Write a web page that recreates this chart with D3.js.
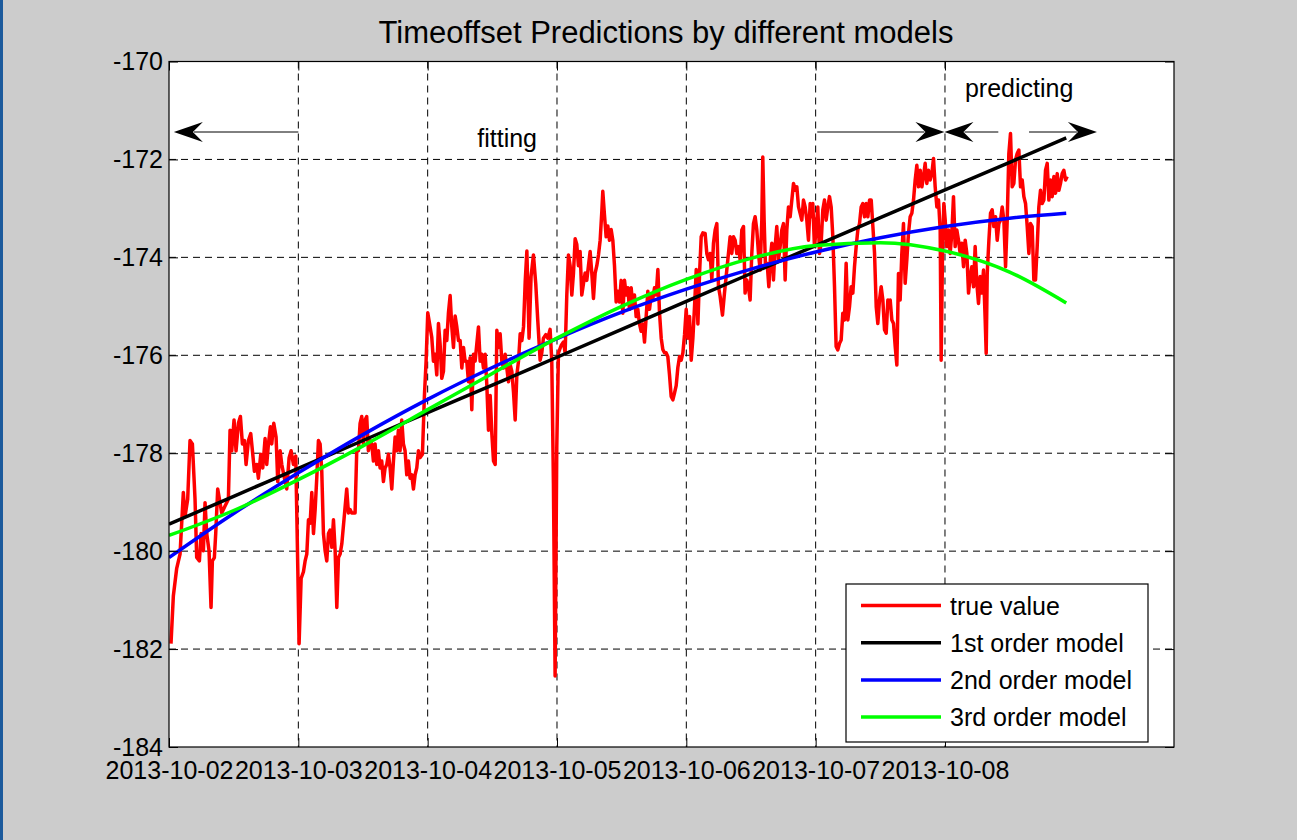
<!DOCTYPE html>
<html>
<head>
<meta charset="utf-8">
<script src="https://cdn.jsdelivr.net/npm/d3@7"></script>
<style>
  html, body { margin: 0; padding: 0; background: #cccccc; }
  svg { display: block; font-family: "Liberation Sans", Arial, sans-serif; }
</style>
</head>
<body>
<div id="chart"></div>
<script>
// ---- data (hours since 2013-10-02 00:00) ----
const dayTicks = ["2013-10-02", "2013-10-03", "2013-10-04", "2013-10-05", "2013-10-06", "2013-10-07", "2013-10-08"];
const yTicks = [-184, -182, -180, -178, -176, -174, -172, -170];

const trueValue = [
  [0.37,-181.89],[0.81,-180.91],[1.43,-180.35],[2.05,-180.06],[2.66,-178.80],[2.97,-179.29],[3.47,-178.94],[3.90,-177.74],[4.34,-177.81],[4.83,-178.94],
  [5.14,-180.13],[5.64,-180.20],[5.95,-179.64],[6.38,-179.99],[6.69,-179.01],[7.00,-179.64],[7.43,-179.99],[7.80,-181.15],[8.05,-180.20],[8.42,-180.13],
  [8.67,-179.64],[9.04,-178.73],[9.47,-179.01],[9.78,-179.22],[10.40,-179.08],[11.02,-178.94],[11.33,-177.53],[11.64,-177.95],[12.07,-177.32],[12.44,-177.95],
  [12.88,-177.39],[13.25,-177.25],[13.62,-177.81],[13.99,-177.74],[14.30,-178.23],[14.74,-177.74],[15.17,-177.60],[15.48,-177.95],[15.85,-178.37],[16.28,-178.23],
  [16.59,-178.51],[17.03,-178.02],[17.40,-178.30],[17.83,-177.70],[18.14,-178.23],[18.45,-177.81],[18.82,-177.46],[19.07,-177.81],[19.44,-177.39],[19.87,-177.67],
  [20.18,-178.58],[20.62,-177.95],[20.93,-178.23],[21.42,-178.51],[21.85,-178.73],[22.29,-178.09],[22.66,-177.95],[23.09,-178.23],[23.52,-178.06],[23.90,-180.35],
  [24.14,-181.89],[24.52,-180.56],[24.95,-180.42],[25.26,-180.20],[25.57,-180.06],[25.88,-179.36],[26.19,-179.43],[26.50,-178.80],[26.81,-179.64],[27.12,-179.15],
  [27.42,-178.51],[27.73,-177.74],[28.04,-177.81],[28.35,-178.37],[28.66,-179.64],[28.97,-179.99],[29.28,-180.20],[29.59,-179.64],[29.90,-179.57],[30.21,-179.92],
  [30.52,-179.36],[30.83,-179.99],[31.14,-181.15],[31.45,-180.13],[31.76,-180.06],[32.07,-179.85],
  [32.98,-178.73],[33.29,-179.22],[33.60,-179.15],[33.91,-179.22],[34.53,-179.22],[34.84,-177.95],[35.15,-177.95],[35.46,-177.39],[35.77,-177.25],[36.07,-177.81],
  [36.38,-177.32],[36.69,-177.25],[37.00,-177.95],[37.31,-177.74],[37.62,-177.81],[37.93,-178.16],[38.24,-177.81],[38.55,-178.23],[38.86,-177.95],[39.17,-178.30],
  [39.48,-178.16],[39.79,-178.58],[40.10,-178.30],[40.41,-178.23],[40.72,-178.02],[41.03,-178.30],[41.34,-178.73],[41.65,-178.16],[41.96,-177.67],[42.26,-177.95],
  [42.57,-177.53],[42.88,-177.95],[43.19,-177.32],[43.50,-177.81],[43.81,-177.95],[44.12,-178.44],[44.43,-178.16],[44.74,-178.51],[45.05,-178.44],[45.36,-178.73],
  [45.67,-178.44],[45.98,-178.30],[46.29,-177.95],[46.60,-178.09],[47.03,-178.02],[47.40,-176.82],[47.71,-176.12],[48.02,-175.13],[48.45,-175.42],[48.76,-175.63],
  [49.07,-176.12],[49.38,-175.98],[49.69,-176.40],[50.00,-175.35],[50.31,-175.77],[50.62,-176.47],[50.93,-176.33],[51.24,-175.49],[51.55,-175.70],[51.86,-175.13],
  [52.17,-174.78],[52.48,-175.42],[52.79,-175.84],[53.10,-175.20],[53.41,-175.42],[53.72,-175.70],[54.03,-175.70],[54.34,-176.26],[54.65,-175.84],[54.95,-176.12],
  [55.26,-176.12],[55.57,-176.54],[55.88,-176.05],[56.19,-177.11],[56.50,-175.98],[56.81,-176.12],[57.12,-175.77],[57.43,-175.42],[57.74,-176.12],[58.05,-175.98],
  [58.36,-176.26],[58.67,-175.98],[58.98,-176.61],[59.29,-177.53],[59.60,-176.82],[59.91,-177.60],[60.22,-178.16],[60.53,-178.23],[60.84,-175.49],[61.15,-175.84],
  [61.45,-175.56],[61.76,-176.12],[62.07,-176.26],[62.38,-175.98],[62.69,-176.26],[63.00,-176.54],[63.31,-176.19],[63.62,-176.33],[63.93,-176.75],[64.24,-177.32],
  [64.55,-176.40],[64.86,-176.12],[65.17,-175.56],[65.48,-175.70],[65.79,-175.42],[66.10,-174.50],[66.41,-173.87],
  [66.82,-175.65],[67.19,-174.39],[67.63,-173.95],[68.06,-174.54],[68.43,-175.28],[68.87,-176.10],[69.18,-175.95],[69.48,-175.65],[69.92,-175.58],[70.29,-175.65],
  [70.72,-175.47],[71.03,-176.10],[71.34,-178.62],[71.65,-182.55],[71.96,-177.88],[72.27,-175.95],[72.77,-175.80],[73.20,-175.73],[73.51,-175.95],[73.82,-174.77],
  [74.13,-173.95],[74.44,-174.17],[74.75,-174.77],[75.06,-174.32],[75.37,-173.62],[75.67,-173.73],[75.98,-174.17],[76.29,-173.88],[76.60,-174.77],[76.91,-174.54],
  [77.22,-174.32],[77.53,-174.47],[77.84,-174.17],[78.15,-173.88],[78.46,-174.32],[78.77,-174.84],[79.08,-174.32],[79.39,-174.17],[79.70,-173.95],[80.01,-173.65],
  [80.32,-173.06],[80.50,-172.65],[80.81,-173.13],[81.12,-173.58],[81.43,-173.36],[81.74,-173.65],[82.05,-173.43],[82.36,-173.65],[82.67,-174.17],[82.98,-174.91],
  [83.29,-174.69],[83.60,-174.91],[83.91,-174.47],[84.22,-175.14],[84.53,-174.47],[84.84,-174.77],[85.15,-174.62],[85.45,-175.06],[85.76,-174.62],[86.07,-174.99],
  [86.38,-174.77],[86.69,-175.21],[87.00,-175.06],[87.31,-175.36],[87.62,-175.51],[87.93,-175.36],[88.24,-175.73],[88.55,-175.21],[88.86,-174.69],[89.17,-175.06],
  [89.48,-174.77],[89.79,-174.84],[90.10,-174.62],[90.41,-174.77],[90.72,-174.25],[91.03,-175.14],[91.34,-175.65],[91.64,-175.88],[91.95,-175.95],[92.26,-175.95],
  [92.57,-176.03],[92.88,-176.40],[93.19,-176.84],[93.50,-176.91],[93.81,-176.77],[94.12,-176.62],[94.43,-176.25],[94.74,-176.03],[95.05,-176.10],[95.36,-175.95],
  [95.67,-175.58],[95.98,-175.06],[96.29,-175.65],[96.60,-175.21],[96.91,-176.10],[97.22,-175.65],[97.53,-174.99],[97.84,-174.25],[98.15,-175.36],[98.46,-174.32],
  [98.76,-173.58],[99.07,-173.50],
  [99.49,-173.51],[99.80,-173.92],[100.11,-174.05],[100.42,-173.92],[100.73,-174.46],[101.04,-173.71],[101.35,-173.44],[101.66,-173.31],[101.97,-174.60],[102.28,-174.80],
  [102.71,-175.18],[103.08,-174.73],[103.51,-174.26],[103.82,-173.92],[104.13,-173.58],[104.44,-173.92],[104.75,-173.58],[105.06,-173.65],[105.37,-173.92],[105.68,-173.78],
  [105.99,-174.05],[106.30,-173.44],[106.61,-173.37],[106.91,-174.73],[107.22,-174.46],[107.53,-174.60],[107.84,-174.87],[108.15,-173.92],[108.46,-173.31],[108.77,-173.17],
  [109.08,-173.44],[109.39,-173.92],[109.70,-174.26],[110.01,-173.24],[110.19,-171.95],[110.44,-173.24],[110.69,-174.19],[111.00,-174.12],[111.31,-174.60],[111.62,-173.99],
  [111.87,-173.71],[112.17,-174.46],[112.48,-173.78],[112.79,-173.37],[113.10,-174.05],[113.41,-173.78],[113.72,-173.44],[114.03,-173.31],[114.34,-174.46],[114.65,-173.44],
  [114.96,-172.97],[115.27,-173.17],[115.58,-172.83],[115.89,-172.49],[116.20,-172.63],[116.51,-172.56],[116.82,-172.97],[117.12,-173.10],[117.43,-173.24],[117.74,-172.83],
  [118.05,-172.97],[118.36,-173.24],[118.67,-173.65],[118.98,-172.90],[119.29,-173.17],[119.47,-172.90],[119.78,-173.78],[120.09,-173.44],[120.40,-172.97],[120.71,-173.92],
  [121.02,-173.71],[121.33,-173.03],[121.64,-172.83],[121.95,-173.24],[122.26,-172.97],[122.57,-172.76],[122.88,-172.97],[123.19,-173.58],[123.50,-174.60],[123.80,-175.82],
  [124.11,-175.89],[124.42,-175.76],[124.73,-175.69],[125.04,-175.14],[125.35,-175.28],[125.66,-174.12],[125.97,-175.28],[126.28,-175.01],[126.59,-174.60],[126.90,-174.73],
  [127.21,-174.19],[127.52,-173.78],[127.83,-173.44],[128.14,-173.31],[128.45,-172.97],[128.76,-172.90],[129.07,-173.17],[129.38,-172.90],[129.69,-173.17],[130.00,-172.83],
  [130.31,-172.83],[130.62,-173.37],[130.93,-173.92],[131.24,-175.01],[131.54,-175.35],[131.85,-174.87],[132.16,-174.60],[132.47,-174.87],[132.78,-175.48],[133.09,-175.55],
  [133.40,-174.87],[133.71,-175.01],
  [133.83,-174.87],[134.14,-175.28],[134.45,-175.35],[134.76,-175.82],[135.07,-176.20],[135.37,-174.33],[135.68,-174.87],[135.99,-173.92],[136.30,-173.31],[136.61,-174.53],
  [136.92,-174.05],[137.23,-173.51],[137.54,-173.17],[137.85,-173.10],[138.16,-172.83],[138.47,-172.42],[138.78,-172.12],[139.09,-172.56],[139.40,-172.22],[139.71,-172.56],
  [140.02,-172.35],[140.32,-172.08],[140.63,-172.49],[140.94,-172.22],[141.25,-172.42],[141.56,-172.29],[141.87,-171.98],[142.18,-172.56],[142.49,-172.97],[142.80,-172.83],
  [143.11,-173.44],[143.29,-176.10],[143.54,-173.92],[143.79,-172.90],[144.04,-173.24],[144.35,-173.78],[144.66,-173.44],[144.96,-173.92],[145.27,-173.51],[145.58,-172.76],
  [145.89,-173.78],[146.20,-173.44],[146.51,-173.65],[146.82,-173.92],[147.13,-173.71],[147.44,-174.19],[147.75,-173.65],[148.06,-173.92],[148.37,-174.73],[148.68,-174.39],
  [148.99,-174.19],[149.30,-174.60],[149.60,-173.78],[149.91,-174.53],[150.22,-174.94],[150.53,-174.39],[150.84,-174.73],[151.15,-174.26],[151.46,-175.28],[151.65,-175.96],
  [151.84,-174.33],[152.15,-173.65],[152.45,-173.10],[152.76,-173.03],[153.07,-173.37],[153.38,-173.17],[153.69,-173.65],[154.00,-173.31],[154.31,-173.24],[154.62,-172.97],
  [154.93,-173.24],[155.24,-174.19],[155.55,-173.24],[155.85,-171.88],[156.16,-171.47],[156.47,-172.56],[156.78,-172.49],[157.09,-172.01],[157.40,-171.88],[157.71,-171.81],
  [158.02,-172.56],[158.33,-172.42],[158.64,-172.76],[158.95,-172.90],[159.26,-173.37],[159.57,-173.92],[159.87,-173.31],[160.18,-173.37],[160.49,-174.46],[160.80,-174.46],
  [161.11,-173.78],[161.42,-172.97],[161.73,-172.63],[162.04,-172.90],[162.35,-172.83],[162.66,-172.22],[162.97,-172.08],[163.28,-172.83],[163.59,-172.42],[163.90,-172.76],
  [164.21,-172.35],[164.52,-172.69],[164.83,-172.29],[165.14,-172.63],[165.44,-172.49],[165.75,-172.29],[166.06,-172.22],[166.37,-172.42],[166.68,-172.35]
];

// model curves, sampled every half day
const modelHours = [0, 12, 24, 36, 48, 60, 72, 84, 96, 108, 120, 132, 144, 156, 166.5];
const order1 = [-179.45, -178.88, -178.31, -177.74, -177.17, -176.61, -176.04, -175.47, -174.90, -174.33, -173.76, -173.19, -172.62, -172.06, -171.56];
const order2 = [-180.13, -179.23, -178.40, -177.62, -176.90, -176.25, -175.66, -175.12, -174.65, -174.24, -173.89, -173.60, -173.37, -173.20, -173.10];
const order3 = [-179.68, -179.17, -178.54, -177.85, -177.11, -176.37, -175.65, -175.00, -174.45, -174.02, -173.76, -173.70, -173.87, -174.30, -174.93];

const seriesNames = ["true value", "1st order model", "2nd order model", "3rd order model"];
const seriesColors = ["#ff0000", "#000000", "#0000ff", "#00ff00"];

// ---- layout ----
const fullW = 1297, fullH = 840;
const margin = { top: 61.5, right: 123, bottom: 93, left: 169 };
const width = fullW - margin.left - margin.right;
const height = fullH - margin.top - margin.bottom;

const t0 = new Date(2013, 9, 2);
const atHour = h => new Date(t0.getTime() + h * 3600e3);
const parseDay = d3.timeParse("%Y-%m-%d");

const x = d3.scaleTime()
    .domain([t0, atHour(186.5)])
    .range([0, width]);

const y = d3.scaleLinear()
    .domain([-184, -170])
    .range([height, 0]);

const root = d3.select("#chart")
    .append("svg")
    .attr("width", fullW)
    .attr("height", fullH);

root.append("rect")
    .attr("width", fullW).attr("height", fullH)
    .attr("fill", "#cccccc");
root.append("rect")
    .attr("width", 3).attr("height", fullH)
    .attr("fill", "#1c5a9c");

const svg = root.append("g")
    .attr("transform", `translate(${margin.left},${margin.top})`);

svg.append("rect")
    .attr("width", width).attr("height", height)
    .attr("fill", "#ffffff");

svg.append("defs").append("clipPath").attr("id", "clip")
    .append("rect").attr("width", width).attr("height", height);

// grid
const xTickDates = dayTicks.map(parseDay);
svg.selectAll(".vgrid")
    .data(xTickDates.slice(1))
    .enter()
    .append("line")
    .attr("x1", d => x(d)).attr("x2", d => x(d))
    .attr("y1", 0).attr("y2", height)
    .attr("stroke", "#000").attr("stroke-width", 1)
    .attr("stroke-dasharray", "7,5");

svg.selectAll(".hgrid")
    .data(yTicks.slice(1, -1))
    .enter()
    .append("line")
    .attr("x1", 0).attr("x2", width)
    .attr("y1", d => y(d)).attr("y2", d => y(d))
    .attr("stroke", "#000").attr("stroke-width", 1)
    .attr("stroke-dasharray", "7,5");

// lines
const plot = svg.append("g").attr("clip-path", "url(#clip)");

const trueLine = d3.line()
    .x(d => x(atHour(d[0])))
    .y(d => y(d[1]));

plot.append("path")
    .datum(trueValue)
    .attr("d", trueLine)
    .attr("fill", "none")
    .attr("stroke", seriesColors[0])
    .attr("stroke-width", 3.5)
    .attr("stroke-linejoin", "round");

const modelLine = d3.line()
    .x((d, i) => x(atHour(modelHours[i])))
    .y(d => y(d))
    .curve(d3.curveMonotoneX);

[order1, order2, order3].forEach((vals, i) => {
    plot.append("path")
        .datum(vals)
        .attr("d", modelLine)
        .attr("fill", "none")
        .attr("stroke", seriesColors[i + 1])
        .attr("stroke-width", 3.5);
});

// axes
const fmt = d3.timeFormat("%Y-%m-%d");
const styleAxis = (g, size) => {
    g.select(".domain").remove();
    g.selectAll(".tick line").attr("stroke", "#000");
    g.selectAll("text").attr("fill", "#000").style("font-size", size + "px")
        .style("font-family", "'Liberation Sans', Arial, sans-serif");
};

svg.append("g")
    .attr("transform", `translate(0,${height})`)
    .call(d3.axisBottom(x).tickValues(xTickDates).tickFormat(fmt).tickSize(-9).tickPadding(14))
    .call(styleAxis, 25);

svg.append("g")
    .call(d3.axisTop(x).tickValues(xTickDates).tickFormat("").tickSize(-9))
    .call(styleAxis, 25);

svg.append("g")
    .call(d3.axisLeft(y).tickValues(yTicks).tickFormat(d => String(d)).tickSize(-9).tickPadding(6))
    .call(styleAxis, 25);

svg.append("g")
    .attr("transform", `translate(${width},0)`)
    .call(d3.axisRight(y).tickValues(yTicks).tickFormat("").tickSize(-9))
    .call(styleAxis, 25);

svg.append("rect")
    .attr("width", width).attr("height", height)
    .attr("fill", "none")
    .attr("stroke", "#000").attr("stroke-width", 1.2);

// annotations: fitting / predicting arrows
const arrowLevel = -171.44;
const arrows = [[24, 0.9], [120.3, 143.9], [153.9, 143.9], [159.6, 172.2]];

const arrowG = svg.append("g");
arrows.forEach(([from, to]) => {
    const x0 = x(atHour(from)), x1 = x(atHour(to)), yy = y(arrowLevel);
    const dir = x1 > x0 ? 1 : -1;
    arrowG.append("line")
        .attr("x1", x0).attr("x2", x1 - dir * 20)
        .attr("y1", yy).attr("y2", yy)
        .attr("stroke", "#000").attr("stroke-width", 1);
    const p = d3.path();
    p.moveTo(x1, yy);
    p.lineTo(x1 - dir * 29, yy - 10);
    p.lineTo(x1 - dir * 19, yy);
    p.lineTo(x1 - dir * 29, yy + 10);
    p.closePath();
    arrowG.append("path").attr("d", p.toString()).attr("fill", "#000");
});

svg.append("text")
    .attr("x", x(atHour(57.2)))
    .attr("y", y(-171.74))
    .style("font-size", "25px")
    .attr("fill", "#000")
    .text("fitting");

svg.append("text")
    .attr("x", x(atHour(147.7)))
    .attr("y", y(-170.72))
    .style("font-size", "25px")
    .attr("fill", "#000")
    .text("predicting");

// title
root.append("text")
    .attr("x", 666)
    .attr("y", 43)
    .attr("text-anchor", "middle")
    .style("font-size", "31px")
    .attr("fill", "#000")
    .text("Timeoffset Predictions by different models");

// legend
const legend = svg.append("g")
    .attr("transform", `translate(${width - 328},${height - 163})`);

legend.append("rect")
    .attr("width", 302).attr("height", 158)
    .attr("fill", "#fff")
    .attr("stroke", "#000").attr("stroke-width", 1.2);

seriesNames.forEach((name, i) => {
    const ly = 21.5 + i * 37.2;
    legend.append("line")
        .attr("x1", 15).attr("x2", 95)
        .attr("y1", ly).attr("y2", ly)
        .attr("stroke", seriesColors[i]).attr("stroke-width", 3.5);
    legend.append("text")
        .attr("x", 104)
        .attr("y", ly)
        .attr("dy", "0.36em")
        .style("font-size", "25px")
        .attr("fill", "#000")
        .text(name);
});
</script>
</body>
</html>
